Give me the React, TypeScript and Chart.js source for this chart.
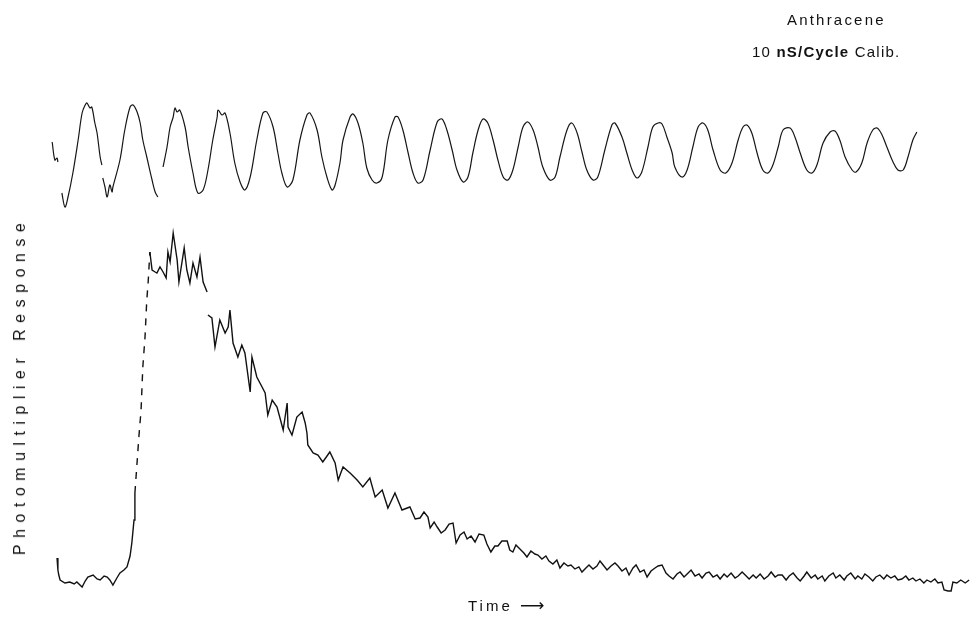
import React, { useEffect, useRef } from "react";
import { Chart, registerables } from "chart.js";

Chart.register(...registerables);

// ---- Calibration trace (10 ns / cycle), time in ns, signal in arbitrary units ----
const calibTime: number[] = [
  0.5, 1.1, 1.6, 1.8, 2.2, 2.7, 3.4, 4.1, 5.2, 6.4, 7.3, 8.0, 8.4, 9.1, 9.5, 10.2, 10.7, 11.4, 11.8, 11.9,
  12.0, 12.5, 13.0, 13.6, 14.1, 14.3, 15.9, 17.0, 18.2, 18.9, 19.8, 20.5, 21.1, 22.0, 23.2, 23.9, 24.5, 25.1,
  25.7, 26.6, 27.3, 28.0, 28.4, 28.9, 29.5, 30.7, 31.4, 32.5, 33.6, 34.8, 35.9, 37.0, 38.0, 38.2, 39.1, 39.8,
  40.9, 42.0, 43.2, 44.3, 45.5, 47.0, 48.4, 49.3, 50.7, 51.8, 52.7, 53.9, 55.2, 56.8, 58.4, 59.1, 60.7, 61.8,
  63.0, 64.1, 64.8, 65.9, 66.6, 68.2, 68.9, 70.0, 71.1, 72.0, 73.2, 74.3, 75.5, 76.8, 78.4, 79.1, 80.2, 81.4,
  82.5, 83.6, 84.8, 86.4, 88.0, 89.1, 90.2, 91.4, 92.5, 93.9, 95.0, 96.1, 97.3, 98.4, 99.5, 100.7, 101.8,
  103.0, 104.1, 105.2, 106.4, 107.5, 108.6, 109.8, 110.9, 112.0, 113.6, 114.8, 115.9, 117.5, 118.6, 119.8,
  120.9, 122.0, 123.4, 124.5, 126.1, 127.7, 128.4, 130.0, 131.1, 132.3, 133.4, 134.5, 135.9, 137.0, 138.2,
  139.1, 140.2, 141.4, 142.0, 143.6, 144.8, 146.1, 147.3, 148.4, 149.5, 150.7, 152.3, 153.6, 155.0, 156.4,
  157.5, 158.4, 159.5, 160.7, 162.0, 163.2, 164.3, 165.5, 166.6, 168.2, 169.3, 170.5, 172.0, 173.2, 174.3,
  175.7, 177.3, 178.4, 179.5, 180.7, 182.3, 183.2, 184.5, 185.7, 187.0, 188.0, 189.1, 190.2, 191.6, 192.7,
  193.9, 195.0, 196.1, 197.0,
];
const calibSignal: (number | null)[] = [
  89.6, 86, 86.4, 85.6, null, 79.4, 76.6, 78.6, 83.4, 90, 95.4, 97, 97.4, 96.4, 96.6, 93.4, 91.4, 86.6, 85, null,
  82.4, 80.6, 78.6, 81, 79.6, 80.6, 86, 92, 96.6, 97, 95.6, 93.4, 90, 86.6, 82, 79.6, 78.6, null,
  84.6, 88.6, 92.6, 94.6, 96.4, 95.6, 96, 92.6, 88.6, 83.4, 79.4, 80, 84, 90, 94.6, 96, 95, 95.4,
  91.4, 85.4, 81.6, 80, 82.6, 90, 95.4, 95.6, 92.6, 87.4, 83.4, 80.6, 82, 90, 95, 95.4, 92, 86.6,
  82.4, 80, 81, 85.4, 90, 94.6, 95.2, 93.4, 89.4, 84.4, 82, 81.4, 82.6, 90, 94.6, 94.6, 92, 87.4,
  83.4, 81.4, 82, 88, 93.6, 94.2, 92, 88, 84, 81.6, 82.6, 87.4, 92, 94.2, 93.4, 90, 86,
  82.6, 82, 84, 88.6, 92.6, 93.6, 92, 88.6, 84.6, 82, 82.6, 86.6, 92, 93.4, 91.4,
  87.6, 84, 82, 82.6, 88, 93, 93.4, 90.6, 87.4, 84, 82.4, 83.6, 88.6, 92.6, 93.4,
  93.2, 90.6, 87.4, 84.6, 82.6, 84, 88.6, 92.6, 93.4, 92, 88, 84, 83.4, 85.4, 90,
  92.6, 93, 91.4, 87.4, 84, 83.4, 85, 88.6, 92, 92.4, 90.6, 87.4, 84, 83.4, 85,
  89.4, 91.6, 91.8, 90, 86.6, 84, 83.6, 85.4, 89.4, 92, 92.4, 91, 88.6, 85.6, 84,
  84, 86.6, 90, 91.6,
];

// ---- Anthracene fluorescence decay (photomultiplier response) ----
const decayTime: number[] = [
  1.6, 1.8, 2.0, 2.3, 3.4, 4.5, 5.5, 6.1, 7.3, 8.0, 8.6, 9.8, 10.7, 11.4, 12.3, 13.0, 13.6, 14.3, 15.2, 15.9,
  16.8, 17.5, 18.2, 18.6, 19.1, 19.3, 19.8, 20.2, 20.7, 21.1, 21.6, 22.0, 22.3, 22.7, 23.2, 23.9, 24.3, 25.0,
  25.7, 26.4, 26.8, 27.3, 28.0, 28.9, 29.3, 30.5, 31.1, 31.8, 32.5, 33.4, 34.1, 34.8, 35.7, 35.8, 35.9, 36.8,
  37.5, 38.6, 39.8, 40.5, 40.9, 41.6, 42.7, 43.6, 44.3, 45.5, 45.9, 47.0, 48.2, 48.9, 49.5, 50.5, 51.6, 53.0,
  53.9, 54.1, 55.0, 56.1, 57.3, 58.0, 58.4, 58.6, 59.8, 60.9, 62.0, 63.6, 64.8, 65.5, 66.6, 68.2, 69.8, 71.1,
  72.7, 73.9, 75.5, 76.8, 78.4, 80.0, 81.8, 83.0, 84.1, 85.0, 85.9,
  86.4, 87.3, 88.0, 88.9, 89.8, 90.7, 91.6, 92.3, 93.2, 94.1, 94.8, 95.7, 96.6, 97.5, 98.6, 99.3, 100.2, 101.1,
  101.8, 102.7, 103.9, 104.5, 105.2, 105.9, 106.8, 107.7, 108.4, 109.3, 110.2, 110.9, 111.8, 112.7, 113.4,
  114.3, 115.2, 115.9, 116.8, 117.7, 118.4, 119.3, 120.2, 120.9, 121.8, 122.5, 123.4, 124.3, 125.0, 125.9,
  126.6, 127.5, 128.4, 129.1, 130.0, 130.9, 131.6, 132.5, 133.2, 134.1, 135.0, 135.7, 136.6, 137.5, 138.2,
  139.1, 140.0, 140.7, 141.6, 142.5, 143.2, 144.1, 144.8, 145.7, 146.6, 147.5, 148.2, 149.1, 149.8, 150.7,
  151.6, 152.3, 153.2, 153.9, 154.8, 155.7, 156.4, 157.3, 158.0, 158.9, 159.8, 160.5, 161.4, 162.3, 163.2,
  163.9, 164.8, 165.5, 166.4, 167.3, 168.0, 168.9, 169.8, 170.5, 171.4, 172.0, 173.0, 173.9, 174.5, 175.5,
  176.1, 177.0, 178.0, 178.6, 179.5, 180.5, 181.1, 182.0, 183.0, 183.6, 184.5, 185.2, 186.1, 187.0, 187.7,
  188.6, 189.5, 190.2, 191.1, 192.0, 192.7, 193.6, 194.5, 195.2, 196.1, 196.8, 197.7, 198.6, 199.3, 200.2,
  201.1, 201.8, 202.7, 203.2, 204.1, 204.8, 205.2, 206.1, 207.0, 208.0, 208.9,
];
const decaySignal: (number | null)[] = [
  6.4, 4, 3, 2, 1.4, 1.6, 1.2, 1.6, 0.6, 1.8, 2.6, 3, 2.2, 2, 2.8, 2.6, 2, 1, 2.4, 3.4,
  4, 4.6, 6.8, 9.4, 14, 19.4, 25.6, 30.6, 36, 44.6, 50.6, 58, 61.4, 67.6, 64, 63.6, 63.4, 64.6,
  63.6, 62.4, 67.6, 65.6, 71.4, 66, 61.6, 68.4, 64, 61.4, 65.4, 62.6, 66.6, 61.6, 59.6, null, 55, 54.4,
  48.6, 54, 51.4, 52.6, 56, 49.4, 46.6, 49, 47.4, 39.6, 46.6, 42.6, 40.6, 39.4, 35, 38, 36.6, 32,
  37.4, 32.6, 31, 34.6, 35.6, 33.4, 31.4, 29, 27.4, 27, 25.6, 27.6, 25.4, 22, 24.6, 23.4, 22, 20.6,
  22.4, 18.6, 20, 16.4, 19.4, 16, 16.6, 14.2, 14.4, 15.6, 14.6,
  12.4, 13.6, 12.6, 11.4, 12, 13.2, 13.4, 9.4, 11, 11.6, 10.2, 10.8, 9.6, 11.2, 11, 9.2, 7.6, 8.8,
  8.8, 9.8, 9.8, 8, 7.6, 9, 8.2, 7.4, 6.6, 7.8, 7.2, 7, 6.2, 6.8, 5.8,
  5.2, 6, 4.4, 5.4, 4.8, 5, 4.2, 4.6, 3.6, 4.4, 5, 4.2, 4.8, 5.8, 4.8,
  4, 4.8, 5.4, 4.8, 3.8, 4.4, 3, 4.4, 5, 3.6, 4, 2.6, 3.8, 4.4, 4.8,
  5, 3.4, 2.8, 2.2, 3.2, 3.6, 2.6, 3.2, 4, 2.8, 3.2, 2.4, 3.4, 3.6, 2.6,
  3, 2.2, 3.2, 2.6, 3.4, 2.4, 2.8, 3.6, 3, 2.2, 3, 2.4, 3.2, 2.2, 2.8,
  3.6, 2.6, 3, 3, 2, 2.8, 3.4, 2.4, 1.8, 2.8, 3.6, 2.4, 3, 2.2, 2.8,
  1.8, 2.8, 3.4, 2.4, 3, 2, 2.8, 3.4, 2.2, 2.8, 2.2, 3.2, 2.6, 1.8, 2.6,
  3, 2.2, 3, 2.4, 2.8, 2, 2.2, 2.8, 2, 2.4, 1.8, 2.2, 1.4, 2, 1.6,
  2.2, 1.4, 1.6, 0, -0.2, -0.2, 1.6, 1.4, 2, 1.4, 2,
];

// Portion of the rising edge that was recorded as a broken (dashed) trace, in ns
const dashedRise = [19.2, 22.8];

const FONT = '"Liberation Sans", Arial, "DejaVu Sans", sans-serif';

function toPoints(t: number[], v: (number | null)[]) {
  return t.map((x, i) => ({ x, y: v[i] }));
}

export default function App() {
  const canvasRef = useRef<HTMLCanvasElement | null>(null);

  useEffect(() => {
    const canvas = canvasRef.current;
    if (!canvas) return;
    const chart = new Chart(canvas, {
      type: "line",
      data: {
        datasets: [
          {
            label: "10 nS/Cycle Calib.",
            data: toPoints(calibTime, calibSignal),
            borderColor: "#161616",
            borderWidth: 1.2,
            pointRadius: 0,
            tension: 0.35,
            spanGaps: false,
          },
          {
            label: "Anthracene",
            data: toPoints(decayTime, decaySignal),
            borderColor: "#111111",
            borderWidth: 1.4,
            pointRadius: 0,
            tension: 0,
            spanGaps: false,
            segment: {
              borderDash: (c: any) =>
                c.p0.parsed.x >= dashedRise[0] && c.p1.parsed.x <= dashedRise[1] ? [7, 7] : undefined,
            },
          },
        ],
      },
      options: {
        responsive: false,
        animation: false,
        layout: { padding: 0 },
        plugins: {
          legend: { display: false },
          tooltip: { enabled: false },
          title: { display: false },
        },
        scales: {
          x: { type: "linear", display: false, min: -11.36, max: 209.09 },
          y: { type: "linear", display: false, min: -5.8, max: 118 },
        },
      },
    });
    return () => chart.destroy();
  }, []);

  const txt: React.CSSProperties = {
    position: "absolute",
    fontFamily: FONT,
    fontSize: 15,
    color: "#111",
    whiteSpace: "nowrap",
    lineHeight: "18px",
  };

  return (
    <div style={{ position: "absolute", left: 0, top: 0, width: 970, height: 619, background: "#fff", overflow: "hidden" }}>
      <canvas ref={canvasRef} width={970} height={619} style={{ display: "block" }} />
      <div style={{ ...txt, left: 787, top: 11, letterSpacing: "2.2px" }}>Anthracene</div>
      <div style={{ ...txt, left: 752, top: 43, letterSpacing: "1.2px" }}>
        10 <span style={{ fontWeight: 700 }}>nS/Cycle</span> Calib.
      </div>
      <div
        style={{
          ...txt,
          left: 20,
          top: 386,
          fontSize: 16,
          letterSpacing: "6.5px",
          transform: "translate(-50%, -50%) rotate(-90deg)",
        }}
      >
        Photomultiplier Response
      </div>
      <div style={{ ...txt, left: 468, top: 597, letterSpacing: "3px" }}>
        Time <span style={{ letterSpacing: 0, fontSize: 17 }}>⟶</span>
      </div>
    </div>
  );
}
